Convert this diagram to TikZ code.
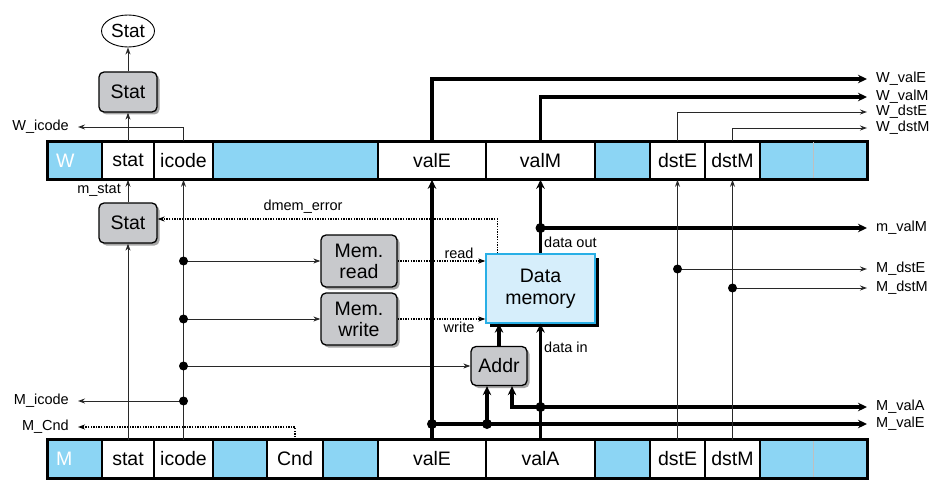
\documentclass[tikz,border=0pt]{standalone}
\usepackage{fontspec}
\setmainfont{Liberation Sans}
\usetikzlibrary{arrows.meta,shapes.geometric,shadows,calc,positioning}
\definecolor{regblue}{RGB}{140,213,244}
\definecolor{logicgray}{RGB}{200,201,204}
\definecolor{memfill}{RGB}{214,238,251}
\definecolor{memedge}{RGB}{40,175,230}
\definecolor{wirecol}{RGB}{40,40,40}

\begin{document}
\begin{tikzpicture}[x=1pt, y=-1pt,
  cell/.style={rectangle, draw=black, line width=1.6pt, fill=white, minimum height=37pt, inner sep=0pt, font=\fontsize{19.5}{21}\selectfont},
  pad/.style={cell, fill=regblue},
  tag/.style={pad, text=white, minimum width=54pt, text width=38pt, inner xsep=8pt, align=left},
  logic/.style={rectangle, rounded corners=5pt, draw=black, line width=1.3pt, fill=logicgray, align=center, inner sep=0pt, font=\fontsize{19.5}{21}\selectfont, drop shadow={shadow xshift=2.5pt, shadow yshift=-2.5pt, fill=black!35, opacity=1}},
  sig/.style={inner sep=1pt, inner xsep=9pt, font=\fontsize{14.5}{16}\selectfont},
  lbl/.style={inner sep=1pt, font=\fontsize{14.5}{16}\selectfont},
  wire/.style={draw=wirecol, line width=0.9pt},
  sigarrow/.style={wire, -{Stealth[length=7pt, width=5pt]}},
  bus/.style={draw=black, line width=3.2pt, -{Stealth[length=9pt, width=8.5pt]}},
  ctl/.style={draw=black, line width=1.3pt, dash pattern=on 1.3pt off 1.3pt, -{Stealth[length=7pt, width=5pt]}}
]
\useasboundingbox (0,0) rectangle (936,481);

% W register
\node[tag] (Wtag) at (75,160.5) {W};
\node[cell, minimum width=52pt] (Wstat) at (128,160.5) {stat};
\node[cell, minimum width=59pt] (Wicode) at (183.5,160.5) {icode};
\node[pad, minimum width=165pt] (Wpad1) at (295.5,160.5) {};
\node[cell, minimum width=108pt] (WvalE) at (432,160.5) {valE};
\node[cell, minimum width=109pt] (WvalM) at (540.5,160.5) {valM};
\node[pad, minimum width=55pt] (Wpad2) at (622.5,160.5) {};
\node[cell, minimum width=55pt] (WdstE) at (677.5,160.5) {dstE};
\node[cell, minimum width=55pt] (WdstM) at (732.5,160.5) {dstM};
\node[pad, minimum width=107pt] (Wpad3) at (813.5,160.5) {};
\draw[black!25, line width=0.5pt] (Wpad3.north) -- (Wpad3.south);
\draw[line width=2.6pt] (Wtag.north west) rectangle (Wpad3.south east);

% M register
\node[tag] (Mtag) at (75,459) {M};
\node[cell, minimum width=52pt] (Mstat) at (128,459) {stat};
\node[cell, minimum width=59pt] (Micode) at (183.5,459) {icode};
\node[pad, minimum width=54pt] (Mpad1) at (240,459) {};
\node[cell, minimum width=56pt] (Mcnd) at (295,459) {Cnd};
\node[pad, minimum width=55pt] (Mpad2) at (350.5,459) {};
\node[cell, minimum width=108pt] (MvalE) at (432,459) {valE};
\node[cell, minimum width=109pt] (MvalA) at (540.5,459) {valA};
\node[pad, minimum width=55pt] (Mpad3) at (622.5,459) {};
\node[cell, minimum width=55pt] (MdstE) at (677.5,459) {dstE};
\node[cell, minimum width=55pt] (MdstM) at (732.5,459) {dstM};
\node[pad, minimum width=107pt] (Mpad4) at (813.5,459) {};
\draw[black!25, line width=0.5pt] (Mpad4.north) -- (Mpad4.south);
\draw[line width=2.6pt] (Mtag.north west) rectangle (Mpad4.south east);

% logic blocks
\node[ellipse, draw=black, line width=0.9pt, fill=white, minimum width=53pt, minimum height=32pt, inner sep=0pt, font=\fontsize{19}{21}\selectfont] (statout) at (128,31) {Stat};
\node[logic, minimum width=58pt, minimum height=40pt] (stat1) at (128,92) {Stat};
\node[logic, minimum width=58pt, minimum height=40pt] (stat2) at (128,223) {Stat};
\node[logic, minimum width=76pt, minimum height=52pt] (memrd) at (359,261) {Mem.\\read};
\node[logic, minimum width=76pt, minimum height=52pt] (memwr) at (359,319) {Mem.\\write};
\node[logic, minimum width=56pt, minimum height=39pt] (addr) at (499,366) {Addr};
\node[rectangle, draw=memedge, line width=1.3pt, fill=memfill, minimum width=109pt, minimum height=69pt, align=center, font=\fontsize{19.5}{22}\selectfont, drop shadow={shadow xshift=4pt, shadow yshift=-4pt, fill=black, opacity=1}] (dmem) at (540.5,288.5) {Data\\memory};

% signal names
\node[sig, anchor=east] (Wicodeout) at (78,127) {W\_icode};
\node[sig, anchor=east] (Micodeout) at (78,401) {M\_icode};
\node[sig, anchor=east] (Mcndout) at (78,427) {M\_Cnd};
\node[sig, anchor=west] (WvalEout) at (867,79) {W\_valE};
\node[sig, anchor=west] (WvalMout) at (867,97) {W\_valM};
\node[sig, anchor=west] (WdstEout) at (867,112) {W\_dstE};
\node[sig, anchor=west] (WdstMout) at (867,128) {W\_dstM};
\node[sig, anchor=west] (mvalMout) at (867,228) {m\_valM};
\node[sig, anchor=west] (MdstEout) at (867,269) {M\_dstE};
\node[sig, anchor=west] (MdstMout) at (867,288) {M\_dstM};
\node[sig, anchor=west] (MvalAout) at (867,407) {M\_valA};
\node[sig, anchor=west] (MvalEout) at (867,424) {M\_valE};
\node[lbl, anchor=east] (mstatlbl) at (122,190) {m\_stat};
\node[lbl] (dmemerr) at (303,207) {dmem\_error};
\node[lbl, anchor=west] (doutlbl) at (543,242) {data out};
\node[lbl, anchor=west] (dinlbl) at (543,347) {data in};

% junctions
\coordinate (jic1) at (183.5,261);
\coordinate (jic2) at (183.5,319);
\coordinate (jic3) at (183.5,366);
\coordinate (jic4) at (183.5,401);
\coordinate (jvalE) at (432,424);
\coordinate (jaddr) at (487,424);
\coordinate (jvalA) at (540.5,407);
\coordinate (jout) at (540.5,228);
\coordinate (jdstE) at (677.5,269);
\coordinate (jdstM) at (732.5,288);

% stat and icode
\draw[sigarrow] (stat1.north) -- (statout.south);
\draw[sigarrow] (Wstat.north) -- (stat1.south);
\draw[sigarrow] (Wicode.north) |- (Wicodeout.east);
\draw[sigarrow] (stat2.north) -- (Wstat.south);
\draw[sigarrow] (Mstat.north) -- (stat2.south);
\draw[sigarrow] (Micode.north) -- (Wicode.south);
\draw[sigarrow] (jic1) -- (memrd.west);
\draw[sigarrow] (jic2) -- (memwr.west);
\draw[sigarrow] (jic3) -- (jic3 -| addr.west);
\draw[sigarrow] (jic4) -- (Micodeout.east);
\draw[ctl] (Mcnd.north) |- (Mcndout.east);

% memory control
\draw[ctl] (memrd.east) -- (memrd.east -| dmem.west) node[lbl, pos=0.7, above=1pt] (readlbl) {read};
\draw[ctl] (memwr.east) -- (memwr.east -| dmem.west) node[lbl, pos=0.7, below=1pt] (writelbl) {write};
\draw[ctl] ([xshift=12pt]dmem.north west) |- ([yshift=4pt]stat2.east);

% data paths
\draw[bus] (MvalE.north) -- (WvalE.south);
\draw[bus] (jvalE) -- (MvalEout.west);
\draw[bus] (jaddr) -- (jaddr |- addr.south);
\draw[bus] (MvalA.north) -- (dmem.south);
\draw[bus] (jvalA) -- (MvalAout.west);
\draw[bus] (jvalA) -| ([xshift=13pt]addr.south);
\draw[bus] (addr.north) -- (addr.north |- dmem.south);
\draw[bus] (dmem.north) -- (WvalM.south);
\draw[bus] (jout) -- (mvalMout.west);
\draw[bus] (WvalE.north) |- (WvalEout.west);
\draw[bus] (WvalM.north) |- (WvalMout.west);

% destination registers
\draw[sigarrow] (MdstE.north) -- (WdstE.south);
\draw[sigarrow] (MdstM.north) -- (WdstM.south);
\draw[sigarrow] (jdstE) -- (MdstEout.west);
\draw[sigarrow] (jdstM) -- (MdstMout.west);
\draw[sigarrow] (WdstE.north) |- (WdstEout.west);
\draw[sigarrow] (WdstM.north) |- (WdstMout.west);

\fill (jic1) circle (4.5pt) (jic2) circle (4.5pt) (jic3) circle (4.5pt) (jic4) circle (4.5pt) (jdstE) circle (4.5pt) (jdstM) circle (4.5pt);
\fill (jvalE) circle (5pt) (jaddr) circle (5pt) (jvalA) circle (5pt) (jout) circle (5pt);
\end{tikzpicture}
\end{document}
